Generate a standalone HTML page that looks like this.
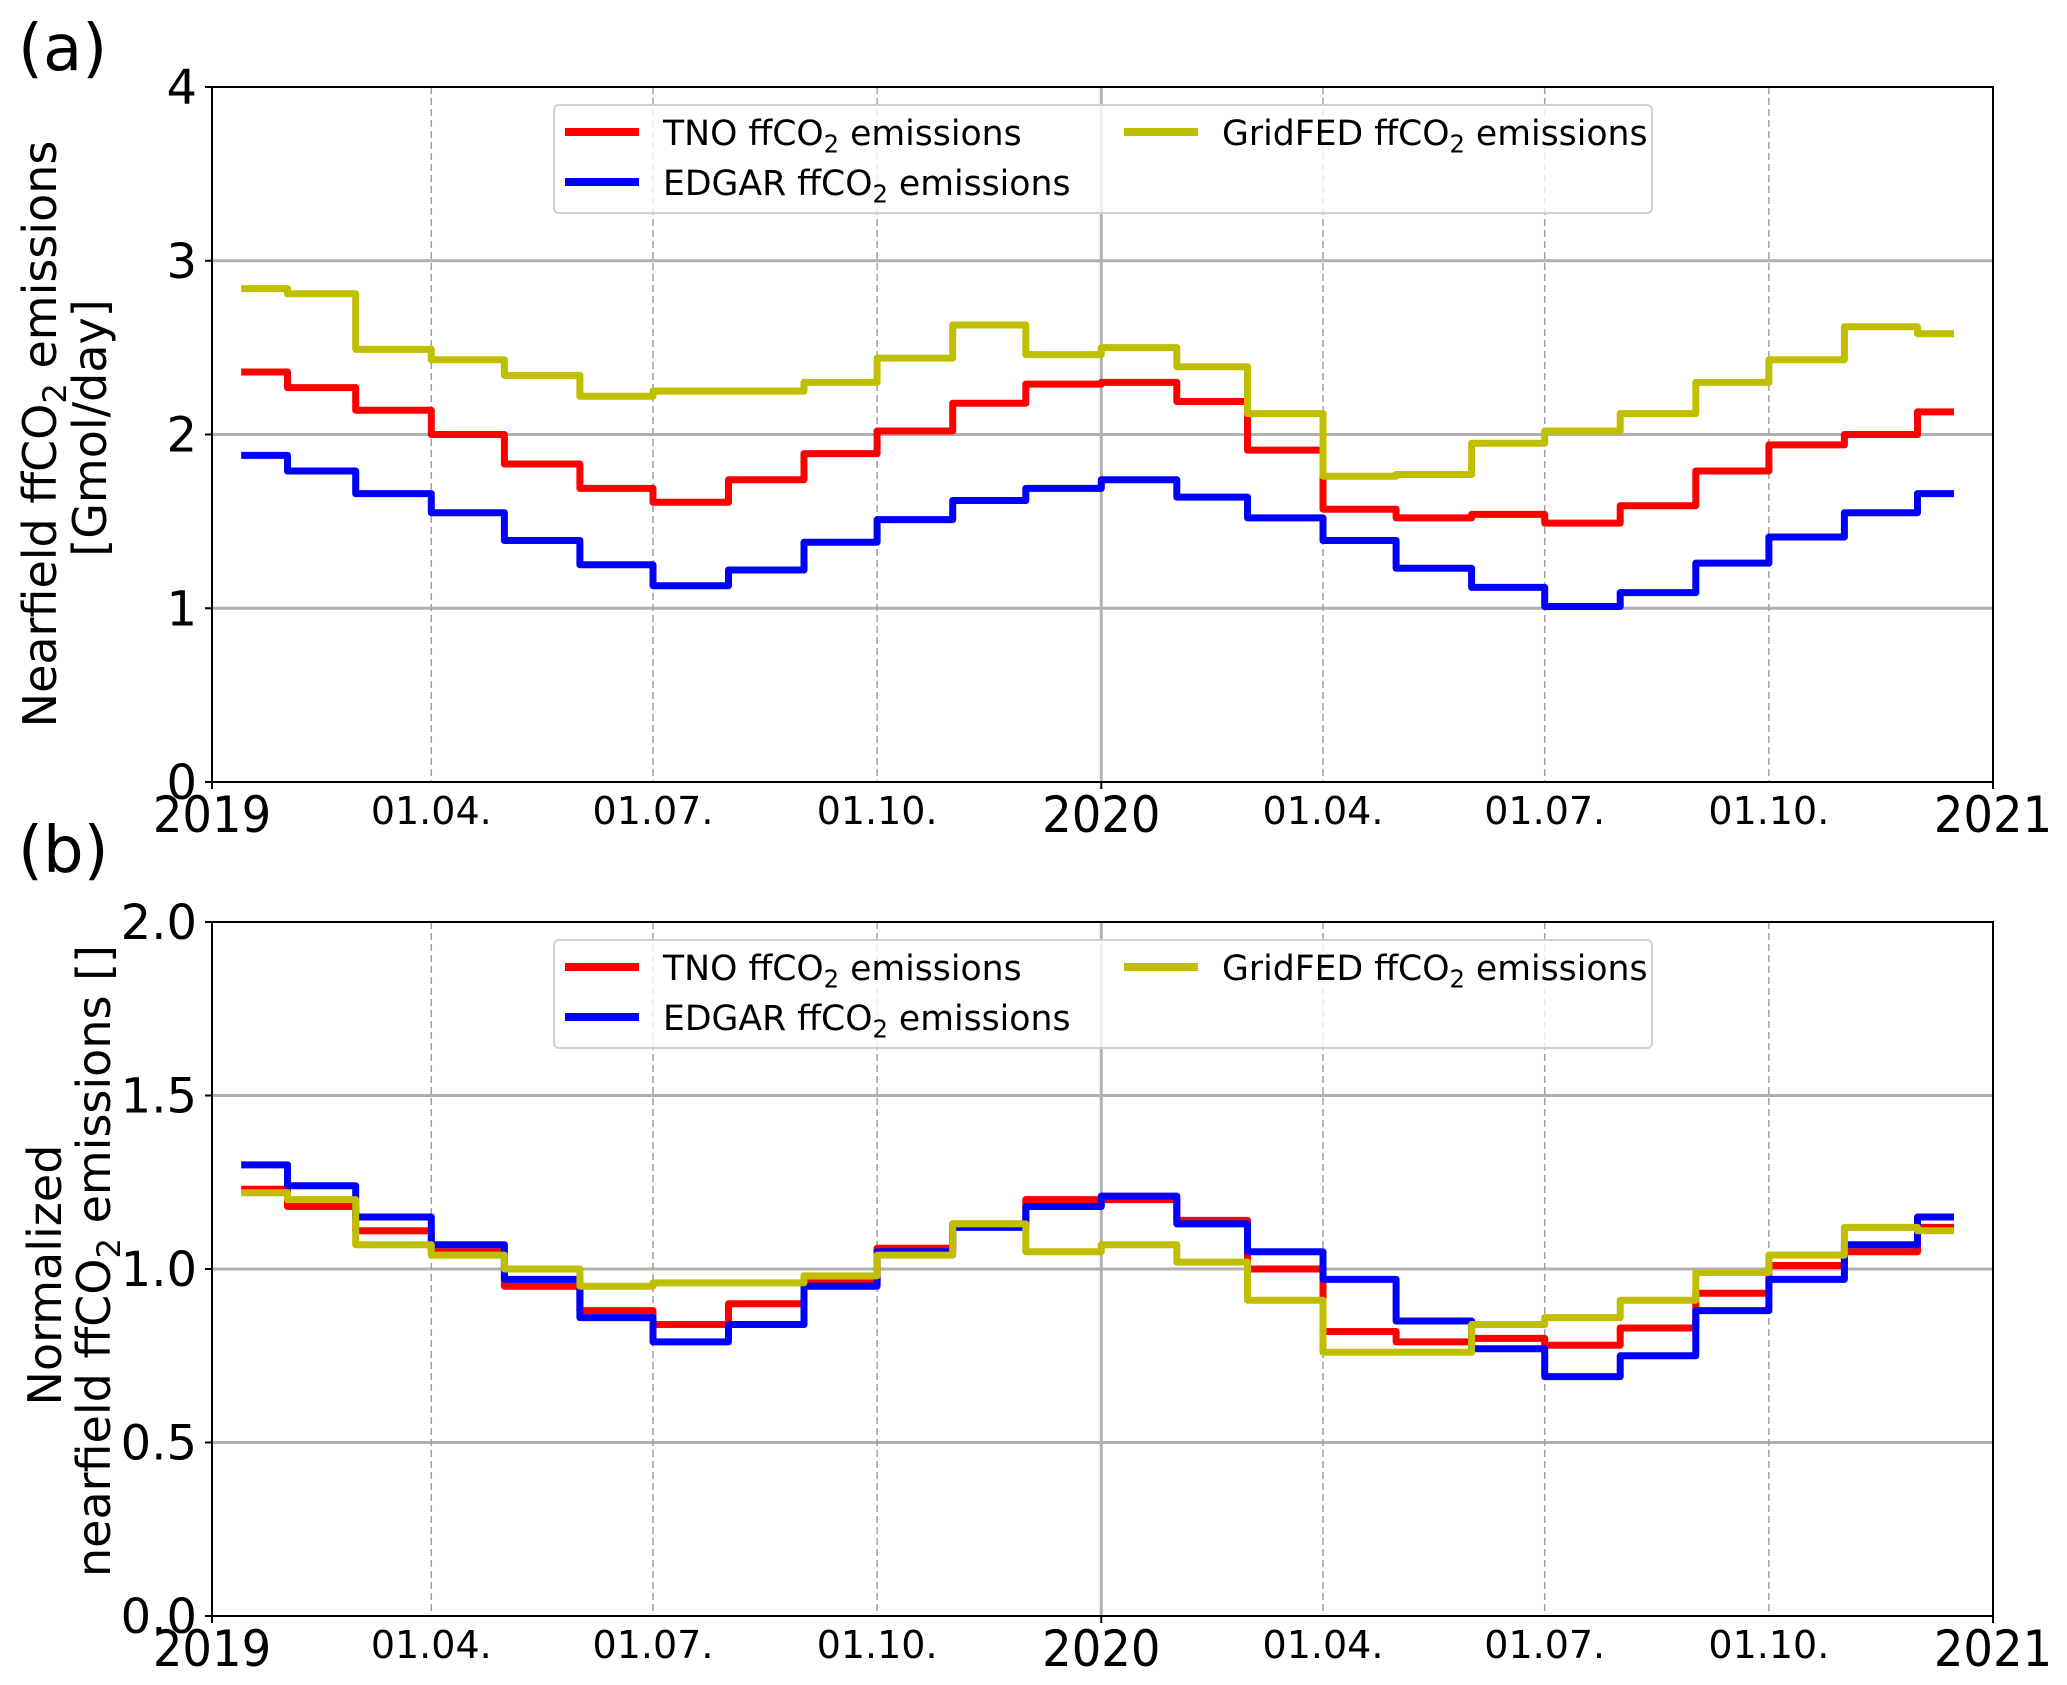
<!DOCTYPE html>
<html><head><meta charset="utf-8"><style>
html,body{margin:0;padding:0;background:#fff;}
svg{display:block;font-family:"DejaVu Sans","Liberation Sans",sans-serif;}
</style></head>
<body>
<svg id="fig" width="2067" height="1685" viewBox="0 0 2067 1685" xmlns="http://www.w3.org/2000/svg"></svg>
<script>
// ---- data (monthly values Jan 2019 .. Dec 2020) ----
const months = ["2019-01","2019-02","2019-03","2019-04","2019-05","2019-06","2019-07","2019-08","2019-09","2019-10","2019-11","2019-12","2020-01","2020-02","2020-03","2020-04","2020-05","2020-06","2020-07","2020-08","2020-09","2020-10","2020-11","2020-12"];
const monthStartDays = [0,31,59,90,120,151,181,212,243,273,304,334,365,396,425,456,486,517,547,578,609,639,670,700,731];
const tnoA = [2.36,2.27,2.14,2.00,1.83,1.69,1.61,1.74,1.89,2.02,2.18,2.29,2.30,2.19,1.91,1.57,1.52,1.54,1.49,1.59,1.79,1.94,2.00,2.13];
const edgarA = [1.88,1.79,1.66,1.55,1.39,1.25,1.13,1.22,1.38,1.51,1.62,1.69,1.74,1.64,1.52,1.39,1.23,1.12,1.01,1.09,1.26,1.41,1.55,1.66];
const gridfedA = [2.84,2.81,2.49,2.43,2.34,2.22,2.25,2.25,2.30,2.44,2.63,2.46,2.50,2.39,2.12,1.76,1.77,1.95,2.02,2.12,2.30,2.43,2.62,2.58];
const tnoB = [1.23,1.18,1.11,1.05,0.95,0.88,0.84,0.90,0.96,1.06,1.13,1.20,1.20,1.14,1.00,0.82,0.79,0.80,0.78,0.83,0.93,1.01,1.05,1.12];
const edgarB = [1.30,1.24,1.15,1.07,0.97,0.86,0.79,0.84,0.95,1.05,1.12,1.18,1.21,1.13,1.05,0.97,0.85,0.77,0.69,0.75,0.88,0.97,1.07,1.15];
const gridfedB = [1.22,1.20,1.07,1.04,1.00,0.95,0.96,0.96,0.98,1.04,1.13,1.05,1.07,1.02,0.91,0.76,0.76,0.84,0.86,0.91,0.99,1.04,1.12,1.11];
const yTicksA = [0,1,2,3,4];
const yTickLabelsA = ["0","1","2","3","4"];
const yTicksB = [0,0.5,1.0,1.5,2.0];
const yTickLabelsB = ["0.0","0.5","1.0","1.5","2.0"];
const xMajorDays = [0,365,731];
const xMajorLabels = ["2019","2020","2021"];
const xMinorDays = [90,181,273,456,547,639];
const xMinorLabels = ["01.04.","01.07.","01.10.","01.04.","01.07.","01.10."];
const dataStartDay = 12, dataEndDay = 715;

const NS="http://www.w3.org/2000/svg";
const svg=document.getElementById('fig');
function el(tag,attrs,parent){const e=document.createElementNS(NS,tag);for(const k in attrs)e.setAttribute(k,attrs[k]);(parent||svg).appendChild(e);return e;}

const X0=212,X1=1993,TOTAL=731;
function xs(d){return X0+(X1-X0)*d/TOTAL;}

function co2text(parent,x,y,pre,post,size,attrs){
  const t=el('text',Object.assign({x:x,y:y,'font-size':size,fill:'#000'},attrs||{}),parent);
  t.appendChild(document.createTextNode(pre));
  const s=el('tspan',{dy:size*0.22,'font-size':size*0.7},t);s.textContent='2';
  const r=el('tspan',{dy:-size*0.22},t);r.textContent=post;
  return t;
}

function panel(cfg){
  const g=el('g',{});
  
  
  const ys=v=>cfg.yb-(cfg.yb-cfg.yt)*(v-cfg.ymin)/(cfg.ymax-cfg.ymin);
  cfg.yticks.forEach((v,i)=>{
    if(i>0&&i<cfg.yticks.length-1){
      const l=el('line',{x1:X0,x2:X1,y1:ys(v),y2:ys(v),stroke:'#b0b0b0','stroke-width':3},g);
      
      
    }
  });
  xMinorDays.forEach(d=>{
    const l=el('line',{x1:xs(d),x2:xs(d),y1:cfg.yt,y2:cfg.yb,stroke:'#a0a0a0','stroke-width':1.5,'stroke-dasharray':'7,4'},g);
    
    
  });
  const m=el('line',{x1:xs(365),x2:xs(365),y1:cfg.yt,y2:cfg.yb,stroke:'#b0b0b0','stroke-width':3},g);
  
  
  cfg.series.forEach(s=>{
    let d='';
    s.vals.forEach((v,i)=>{
      const a=Math.max(monthStartDays[i],dataStartDay),b=Math.min(monthStartDays[i+1],dataEndDay);
      d+=(i===0?'M':'L')+xs(a).toFixed(1)+','+ys(v).toFixed(1)+'L'+xs(b).toFixed(1)+','+ys(v).toFixed(1);
    });
    const p=el('path',{d:d,fill:'none',stroke:s.color,'stroke-width':7,'stroke-linejoin':'round'},g);
    
    
  });
  const fr=el('rect',{x:X0,y:cfg.yt,width:X1-X0,height:cfg.yb-cfg.yt,fill:'none',stroke:'#000','stroke-width':2},g);
  
  
  cfg.yticks.forEach((v,i)=>{
    el('line',{x1:X0-7,x2:X0,y1:ys(v),y2:ys(v),stroke:'#000','stroke-width':2},g);
    const t=el('text',{x:197,y:ys(v)+17,'font-size':48,'text-anchor':'end',fill:'#000'},g);
    t.textContent=cfg.ylabels[i];
    
    
  });
  xMajorDays.forEach((d,i)=>{
    el('line',{x1:xs(d),x2:xs(d),y1:cfg.yb,y2:cfg.yb+7,stroke:'#000','stroke-width':2},g);
    const t=el('text',{x:0,y:0,'font-size':50,'text-anchor':'middle',fill:'#000',transform:`translate(${xs(d)},${cfg.yb+50}) scale(0.93,1)`},g);
    t.textContent=xMajorLabels[i];
    
    
  });
  xMinorDays.forEach((d,i)=>{
    const t=el('text',{x:xs(d),y:cfg.yb+42,'font-size':38,'text-anchor':'middle',fill:'#000'},g);
    t.textContent=xMinorLabels[i];
    
    
  });
  const L=el('g',{},g);
  
  
  el('rect',{x:554,y:cfg.yt+18,width:1098,height:108,rx:5,fill:'#fff','fill-opacity':0.8,stroke:'#d0d0d0','stroke-width':2},L);
  const ent=[{c:'#ff0000',n:'TNO',x:565,row:0,id:'tno'},{c:'#0000ff',n:'EDGAR',x:565,row:1,id:'edgar'},{c:'#bfbf00',n:'GridFED',x:1124,row:0,id:'gridfed'}];
  ent.forEach(e=>{
    const eg=el('g',{},L);
    
    
    const ly=cfg.yt+45+e.row*50;
    el('line',{x1:e.x,x2:e.x+74,y1:ly,y2:ly,stroke:e.c,'stroke-width':8},eg);
    co2text(eg,0,0,e.n+' ffCO','  emissions',35,{transform:`translate(${e.x+98},${ly+13}) scale(0.99,1)`});
  });
  const pl=el('text',{x:18,y:cfg.letterY,'font-size':64,fill:'#000'},g);
  pl.textContent=cfg.letter;
  
  
  return {g,ys};
}

const A=panel({name:'panel-a',yt:87,yb:782,ymin:0,ymax:4,yticks:yTicksA,ylabels:yTickLabelsA,letter:'(a)',letterY:70,
  series:[{id:'tno',color:'#ff0000',vals:tnoA},{id:'edgar',color:'#0000ff',vals:edgarA},{id:'gridfed',color:'#bfbf00',vals:gridfedA}]});
const B=panel({name:'panel-b',yt:922,yb:1616,ymin:0,ymax:2,yticks:yTicksB,ylabels:yTickLabelsB,letter:'(b)',letterY:872,
  series:[{id:'tno',color:'#ff0000',vals:tnoB},{id:'edgar',color:'#0000ff',vals:edgarB},{id:'gridfed',color:'#bfbf00',vals:gridfedB}]});

let t=co2text(svg,0,0,'Nearfield ffCO',' emissions',46,{transform:'translate(56,434) rotate(-90)','text-anchor':'middle'});


t=el('text',{transform:'translate(106,428) rotate(-90)','text-anchor':'middle','font-size':46,fill:'#000'});
t.textContent='[Gmol/day]';


t=el('text',{transform:'translate(61,1275) rotate(-90)','text-anchor':'middle','font-size':46,fill:'#000'});
t.textContent='Normalized';


t=co2text(svg,0,0,'nearfield ffCO',' emissions []',46,{transform:'translate(110,1261) rotate(-90)','text-anchor':'middle'});


</script>
</body></html>
